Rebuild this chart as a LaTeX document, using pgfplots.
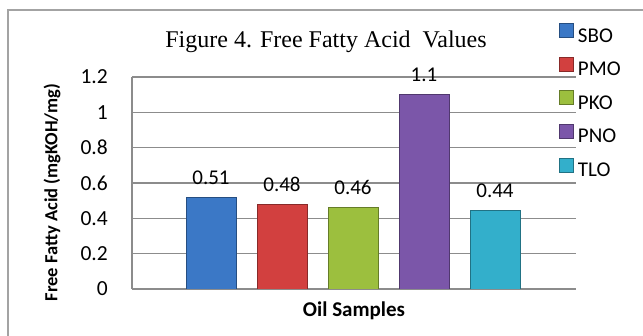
\documentclass[border=0pt]{standalone}
\usepackage{fontspec}
\setmainfont{Carlito}
\newfontfamily\titlefont{Liberation Serif}
\usepackage{pgfplots}
\pgfplotsset{compat=1.18}
\definecolor{cSBO}{HTML}{3B78C6}
\definecolor{cPMO}{HTML}{D2403F}
\definecolor{cPKO}{HTML}{9CBF3E}
\definecolor{cPNO}{HTML}{7B56A9}
\definecolor{cTLO}{HTML}{33AFCB}
\definecolor{gridgray}{HTML}{8C8C8C}
\begin{document}
\begin{tikzpicture}
\path[use as bounding box] (-132pt,-47pt) rectangle (511pt,289pt);
\draw[gridgray!80, line width=1.2pt] (-124pt,-48pt) -- (-124pt,279pt) -- (512pt,279pt);
\begin{axis}[
  at={(0pt,0pt)}, anchor=south west,
  scale only axis, width=444pt, height=212pt,
  ybar,
  xmin=-0.113, xmax=6.141, ymin=0, ymax=1.2,
  ytick={0,0.2,0.4,0.6,0.8,1,1.2},
  xtick=\empty,
  axis x line*=bottom, axis y line*=left,
  axis line style={gridgray, line width=1.2pt, -},
  ymajorgrids, grid style={gridgray, line width=1.2pt},
  major tick length=0pt,
  /pgf/number format/assume math mode=true,
  yticklabel style={inner sep=0pt, xshift=-24pt, font=\fontsize{21.5}{25}\selectfont},
  title={Figure 4. Free Fatty Acid\ \ Values},
  title style={at={(axis description cs:0.437,1.11)}, anchor=base, yshift=0pt, font=\titlefont\fontsize{24}{28}\selectfont},
  ylabel={Free Fatty Acid (mgKOH/mg)},
  ylabel style={at={(axis description cs:-0.180,0.455)}, anchor=center, font=\bfseries\fontsize{18.5}{22}\selectfont},
  xlabel={Oil Samples},
  xlabel style={at={(axis description cs:0.5,-0.13)}, anchor=base, font=\bfseries\fontsize{21}{25}\selectfont},
  legend image code/.code={\fill[#1] (0pt,-1.5pt) rectangle (14pt,12.5pt);},
  legend style={at={(axis description cs:0.9617,1.255)}, anchor=north west, draw=none, fill=none, inner sep=0pt,
    row sep=13.75pt, column sep=4pt, font=\fontsize{21}{25}\selectfont,
    nodes={inner sep=0pt, text height=13pt, text depth=1pt}},
  legend cell align=left,
  every node near coord/.append style={anchor=base, yshift=13pt, inner sep=0pt, font=\fontsize{21}{25}\selectfont, text=black},
]
\addplot[fill=cSBO, draw=cSBO!65!black, line width=0.8pt, bar width=50pt, bar shift=0pt, nodes near coords={0.51}] coordinates {(1,0.52)};
\addplot[fill=cPMO, draw=cPMO!65!black, line width=0.8pt, bar width=50pt, bar shift=0pt, nodes near coords={0.48}] coordinates {(2,0.48)};
\addplot[fill=cPKO, draw=cPKO!65!black, line width=0.8pt, bar width=50pt, bar shift=0pt, nodes near coords={0.46}] coordinates {(3,0.46)};
\addplot[fill=cPNO, draw=cPNO!65!black, line width=0.8pt, bar width=50pt, bar shift=0pt, nodes near coords={1.1}] coordinates {(4,1.10)};
\addplot[fill=cTLO, draw=cTLO!65!black, line width=0.8pt, bar width=50pt, bar shift=0pt, nodes near coords={0.44}] coordinates {(5,0.445)};
\legend{SBO,PMO,PKO,PNO,TLO}
\end{axis}
\end{tikzpicture}
\end{document}
